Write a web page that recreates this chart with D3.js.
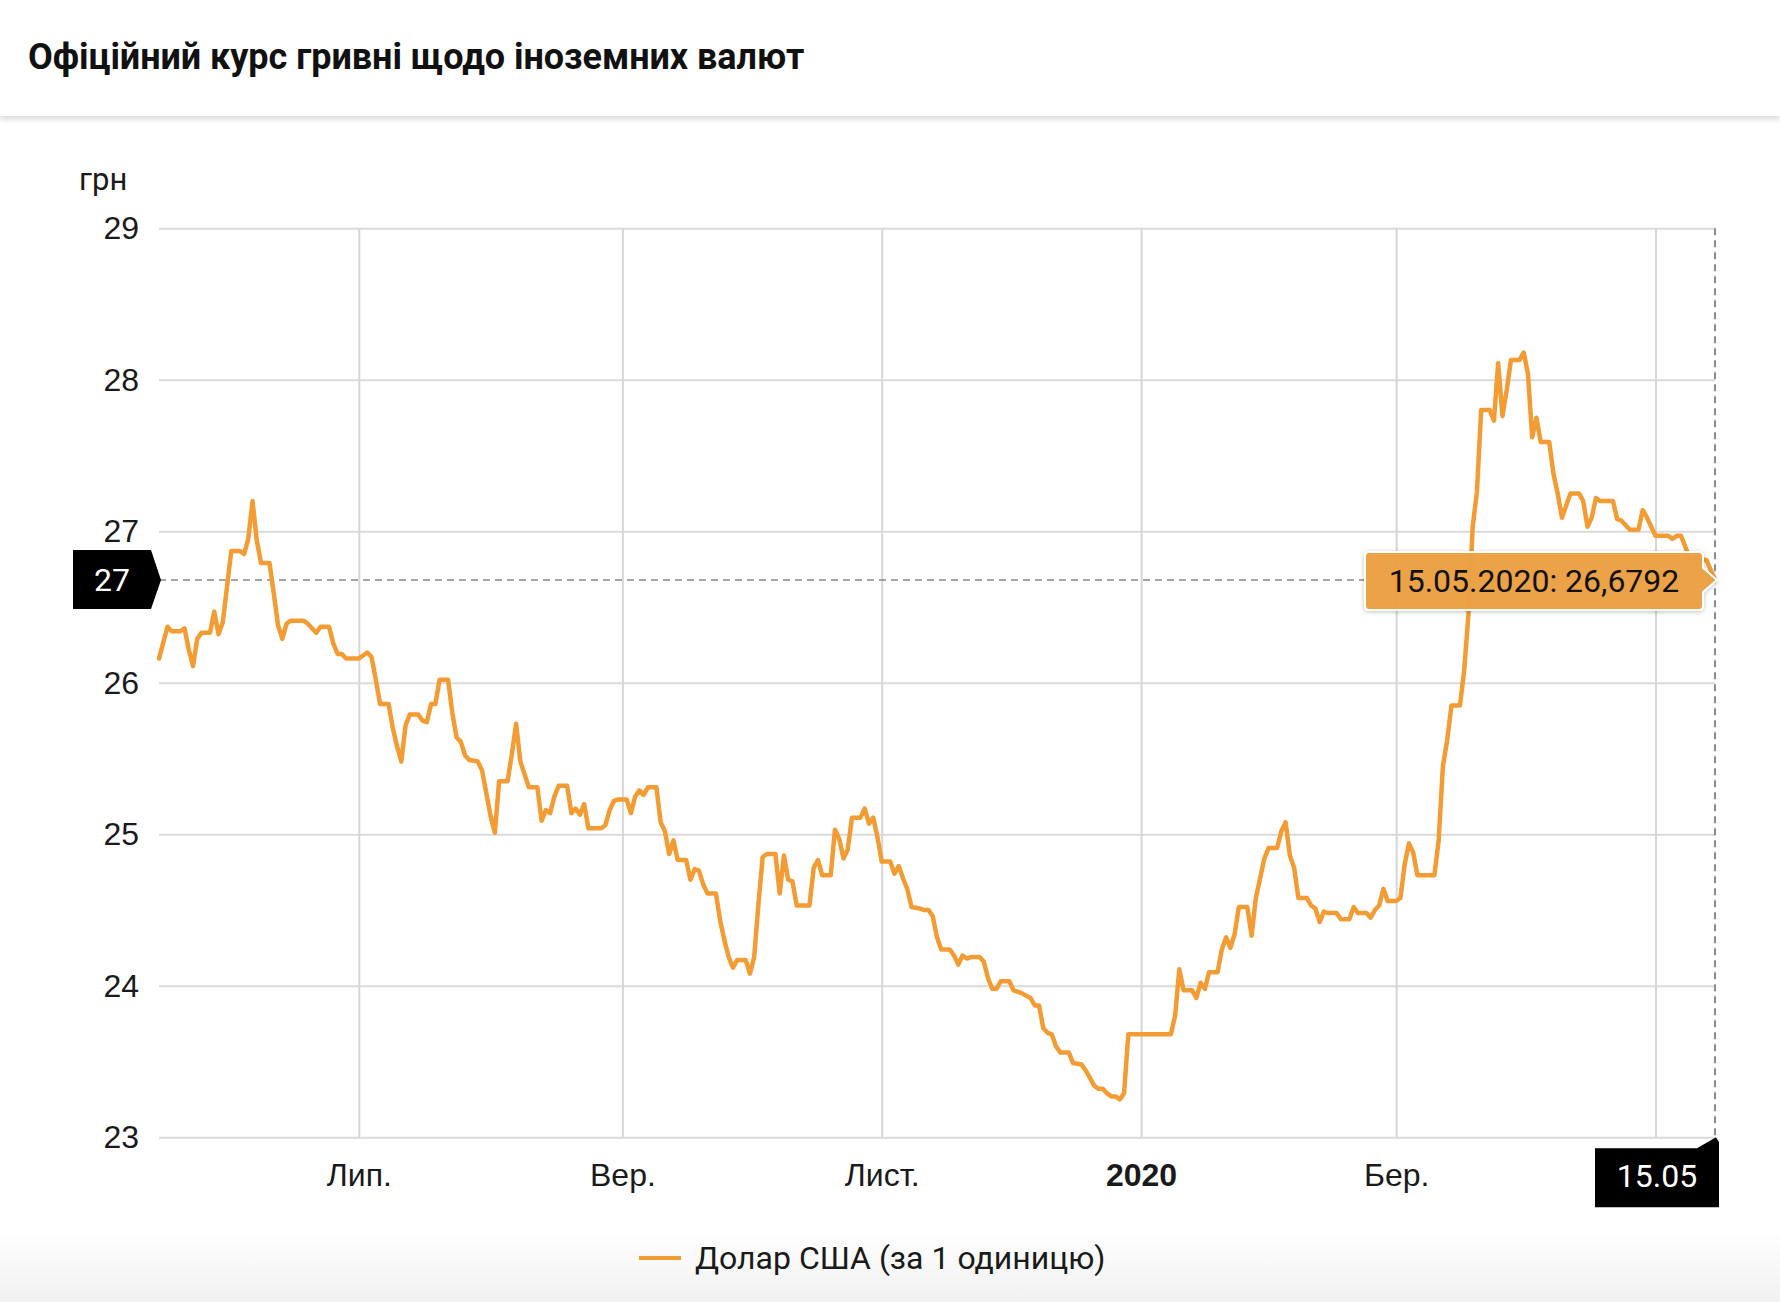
<!DOCTYPE html>
<html>
<head>
<meta charset="utf-8">
<script src="https://cdn.jsdelivr.net/npm/d3@7"></script>
<style>
  body { margin: 0; background: #fff; font-family: Roboto, "Noto Sans", sans-serif; }
  #page { position: relative; width: 1780px; height: 1302px; overflow: hidden; background: #fff; }
  #header {
    position: absolute; left: 0; top: 0; width: 1780px; height: 116px; background: #fff;
    box-shadow: 0 3px 6px rgba(0,0,0,0.16); z-index: 2;
  }
  #header h1 {
    margin: 0; position: absolute; left: 28px; top: 36px;
    font-size: 36px; font-weight: 700; color: #111; letter-spacing: -0.05px;
  }
  #foot {
    position: absolute; left: 0; top: 1232px; width: 1780px; height: 70px;
    background: linear-gradient(#ffffff, #f1f1f1);
  }
  #chart { position: absolute; left: 0; top: 0; }
</style>
</head>
<body>
<div id="page">
  <div id="foot"></div>
  <div id="header"><h1>Офіційний курс гривні щодо іноземних валют</h1></div>
  <div id="chart"></div>
</div>
<script>
// daily official USD rate
const dates = [
  "2019-05-15","2019-05-17","2019-05-18","2019-05-20","2019-05-21","2019-05-22","2019-05-23","2019-05-24","2019-05-25","2019-05-27",
  "2019-05-28","2019-05-29","2019-05-30","2019-06-01","2019-06-03","2019-06-04","2019-06-05","2019-06-06","2019-06-07","2019-06-08",
  "2019-06-10","2019-06-11","2019-06-12","2019-06-13","2019-06-14","2019-06-15","2019-06-18","2019-06-19","2019-06-21","2019-06-22",
  "2019-06-24","2019-06-25","2019-06-26","2019-06-27","2019-06-28","2019-07-01","2019-07-02","2019-07-03","2019-07-04","2019-07-05",
  "2019-07-06","2019-07-08","2019-07-09","2019-07-10","2019-07-11","2019-07-12","2019-07-13","2019-07-15","2019-07-16","2019-07-17",
  "2019-07-18","2019-07-19","2019-07-20","2019-07-22","2019-07-23","2019-07-24","2019-07-25","2019-07-26","2019-07-27","2019-07-29",
  "2019-07-30","2019-07-31","2019-08-01","2019-08-02","2019-08-03","2019-08-05","2019-08-06","2019-08-07","2019-08-08","2019-08-10",
  "2019-08-12","2019-08-13","2019-08-14","2019-08-15","2019-08-16","2019-08-17","2019-08-19","2019-08-20","2019-08-21","2019-08-22",
  "2019-08-23","2019-08-24","2019-08-27","2019-08-28","2019-08-29","2019-08-30","2019-08-31","2019-09-02","2019-09-03","2019-09-04",
  "2019-09-05","2019-09-06","2019-09-07","2019-09-09","2019-09-10","2019-09-11","2019-09-12","2019-09-13","2019-09-14","2019-09-16",
  "2019-09-17","2019-09-18","2019-09-19","2019-09-20","2019-09-21","2019-09-23","2019-09-24","2019-09-25","2019-09-26","2019-09-27",
  "2019-09-28","2019-09-30","2019-10-01","2019-10-02","2019-10-03","2019-10-04","2019-10-05","2019-10-07","2019-10-08","2019-10-09",
  "2019-10-10","2019-10-11","2019-10-12","2019-10-15","2019-10-16","2019-10-17","2019-10-18","2019-10-20","2019-10-21","2019-10-22",
  "2019-10-23","2019-10-24","2019-10-25","2019-10-27","2019-10-28","2019-10-29","2019-10-30","2019-10-31","2019-11-01","2019-11-03",
  "2019-11-04","2019-11-05","2019-11-06","2019-11-07","2019-11-08","2019-11-10","2019-11-11","2019-11-12","2019-11-13","2019-11-14",
  "2019-11-15","2019-11-17","2019-11-18","2019-11-19","2019-11-20","2019-11-21","2019-11-22","2019-11-24","2019-11-25","2019-11-26",
  "2019-11-27","2019-11-28","2019-11-29","2019-12-01","2019-12-02","2019-12-04","2019-12-06","2019-12-07","2019-12-08","2019-12-09",
  "2019-12-10","2019-12-11","2019-12-12","2019-12-13","2019-12-15","2019-12-16","2019-12-18","2019-12-19","2019-12-20","2019-12-21",
  "2019-12-22","2019-12-23","2019-12-24","2019-12-25","2019-12-26","2019-12-27","2019-12-28","2019-12-29","2020-01-08","2020-01-09",
  "2020-01-10","2020-01-11","2020-01-13","2020-01-14","2020-01-15","2020-01-16","2020-01-17","2020-01-19","2020-01-20","2020-01-21",
  "2020-01-22","2020-01-23","2020-01-24","2020-01-26","2020-01-27","2020-01-28","2020-01-29","2020-01-30","2020-01-31","2020-02-02",
  "2020-02-03","2020-02-04","2020-02-05","2020-02-06","2020-02-07","2020-02-09","2020-02-10","2020-02-11","2020-02-12","2020-02-13",
  "2020-02-14","2020-02-16","2020-02-17","2020-02-19","2020-02-20","2020-02-21","2020-02-23","2020-02-24","2020-02-25","2020-02-26",
  "2020-02-27","2020-02-28","2020-03-01","2020-03-02","2020-03-03","2020-03-04","2020-03-05","2020-03-06","2020-03-10","2020-03-11",
  "2020-03-12","2020-03-13","2020-03-14","2020-03-16","2020-03-17","2020-03-18","2020-03-19","2020-03-20","2020-03-21","2020-03-23",
  "2020-03-24","2020-03-25","2020-03-26","2020-03-27","2020-03-28","2020-03-30","2020-03-31","2020-04-01","2020-04-02","2020-04-03",
  "2020-04-04","2020-04-06","2020-04-07","2020-04-08","2020-04-09","2020-04-10","2020-04-11","2020-04-13","2020-04-14","2020-04-15",
  "2020-04-16","2020-04-17","2020-04-18","2020-04-21","2020-04-22","2020-04-23","2020-04-25","2020-04-27","2020-04-28","2020-04-29",
  "2020-04-30","2020-05-01","2020-05-04","2020-05-05","2020-05-06","2020-05-07","2020-05-08","2020-05-09","2020-05-13","2020-05-15"
];
const usd = [
  26.16,26.37,26.34,26.34,26.36,26.22,26.11,26.29,26.33,26.33,
  26.47,26.32,26.40,26.87,26.87,26.85,26.95,27.20,26.94,26.79,
  26.79,26.59,26.38,26.29,26.39,26.41,26.41,26.39,26.33,26.37,
  26.37,26.26,26.19,26.19,26.16,26.16,26.18,26.20,26.17,26.02,
  25.86,25.86,25.70,25.58,25.48,25.72,25.79,25.79,25.75,25.74,
  25.86,25.86,26.02,26.02,25.80,25.64,25.61,25.52,25.49,25.48,
  25.42,25.27,25.12,25.01,25.35,25.35,25.53,25.73,25.48,25.31,
  25.31,25.09,25.16,25.14,25.25,25.32,25.32,25.14,25.17,25.13,
  25.20,25.04,25.04,25.06,25.16,25.22,25.23,25.23,25.14,25.25,
  25.29,25.26,25.31,25.31,25.08,25.02,24.87,24.96,24.83,24.83,
  24.70,24.77,24.76,24.67,24.61,24.61,24.43,24.30,24.19,24.12,
  24.17,24.17,24.08,24.19,24.54,24.85,24.87,24.87,24.61,24.86,
  24.70,24.69,24.53,24.53,24.78,24.83,24.73,24.73,25.03,24.97,
  24.84,24.90,25.11,25.11,25.17,25.07,25.11,24.98,24.82,24.82,
  24.74,24.79,24.71,24.64,24.52,24.51,24.50,24.50,24.46,24.32,
  24.24,24.24,24.20,24.14,24.20,24.18,24.19,24.19,24.16,24.05,
  23.98,23.98,24.03,24.03,23.97,23.95,23.92,23.87,23.87,23.72,
  23.69,23.68,23.60,23.56,23.56,23.49,23.48,23.44,23.39,23.34,
  23.32,23.32,23.29,23.27,23.27,23.25,23.29,23.68,23.68,23.80,
  24.11,23.97,23.97,23.92,24.02,23.98,24.09,24.09,24.24,24.32,
  24.25,24.34,24.52,24.52,24.33,24.58,24.71,24.84,24.91,24.91,
  25.02,25.08,24.86,24.78,24.58,24.58,24.53,24.51,24.42,24.49,
  24.48,24.48,24.44,24.44,24.52,24.48,24.48,24.45,24.50,24.53,
  24.64,24.56,24.56,24.58,24.80,24.94,24.88,24.73,24.73,24.96,
  25.45,25.62,25.85,25.85,26.08,26.45,27.03,27.26,27.80,27.80,
  27.73,28.11,27.76,27.93,28.13,28.13,28.18,28.04,27.62,27.75,
  27.59,27.59,27.38,27.25,27.09,27.17,27.25,27.25,27.20,27.03,
  27.09,27.22,27.20,27.20,27.08,27.07,27.01,27.01,27.14,27.09,
  27.03,26.97,26.97,26.95,26.97,26.97,26.90,26.82,26.81,26.6792
];

const yTicks = [23, 24, 25, 26, 27, 28, 29];
const xTickDates = ["2019-07-01", "2019-09-01", "2019-11-01", "2020-01-01", "2020-03-01", "2020-05-01"];
// the May label sits under the 15.05 crosshair box, so it is left blank
const xTickLabels = ["Лип.", "Вер.", "Лист.", "2020", "Бер.", ""];
const seriesName = "Долар США (за 1 одиницю)";
const unitLabel = "грн";

const W = 1780, H = 1302;
const margin = { left: 159, right: 65, top: 228.3, bottom: 164.7 };
const orange = "#f39c33";
const fs = "32px";

const parse = d3.timeParse("%Y-%m-%d");
const data = dates.map((d, i) => ({ date: parse(d), v: usd[i] }));
const last = data[data.length - 1];

const svg = d3.select("#chart").append("svg")
  .attr("width", W).attr("height", H)
  .style("font-family", "Roboto, 'Noto Sans', sans-serif");

const x = d3.scaleTime()
  .domain([parse("2019-05-15"), parse("2020-05-15")])
  .range([margin.left, W - margin.right]);
const y = d3.scaleLinear()
  .domain([23, 29])
  .range([H - margin.bottom, margin.top]);

// horizontal grid + y labels
const yAxis = svg.append("g")
  .attr("transform", `translate(${margin.left},0)`)
  .call(d3.axisLeft(y).tickValues(yTicks).tickFormat(d3.format("d"))
    .tickSize(-(W - margin.right - margin.left)).tickPadding(20));
yAxis.select(".domain").remove();
yAxis.selectAll(".tick line").attr("stroke", "#dadada").attr("stroke-width", 2);
yAxis.selectAll(".tick text").attr("fill", "#1a1a1a").style("font-size", fs);

// vertical grid + x labels
const xAxis = svg.append("g")
  .attr("transform", `translate(0,${H - margin.bottom})`)
  .call(d3.axisBottom(x).tickValues(xTickDates.map(parse))
    .tickFormat((d, i) => xTickLabels[i])
    .tickSize(-(H - margin.bottom - margin.top)).tickPadding(26));
xAxis.select(".domain").remove();
xAxis.selectAll(".tick line").attr("stroke", "#d6d6d6").attr("stroke-width", 2);
xAxis.selectAll(".tick text").attr("fill", "#1a1a1a").style("font-size", fs)
  .style("font-weight", (d, i) => xTickLabels[i] === "2020" ? 700 : 400);

svg.append("text").attr("x", 79).attr("y", 190)
  .attr("fill", "#1a1a1a").style("font-size", "31px").text(unitLabel);

// vertical crosshair at last date
svg.append("line")
  .attr("x1", x(last.date)).attr("x2", x(last.date))
  .attr("y1", margin.top).attr("y2", H - margin.bottom)
  .attr("stroke", "#8c8c8c").attr("stroke-width", 2).attr("stroke-dasharray", "7,5");

// horizontal crosshair
svg.append("line")
  .attr("x1", margin.left).attr("x2", x(last.date))
  .attr("y1", y(last.v)).attr("y2", y(last.v))
  .attr("stroke", "#888").attr("stroke-width", 1.5).attr("stroke-dasharray", "7,5");

// series line
const line = d3.line().x(d => x(d.date)).y(d => y(d.v));
svg.append("path").datum(data)
  .attr("fill", "none").attr("stroke", orange).attr("stroke-width", 4.5)
  .attr("stroke-linejoin", "round").attr("stroke-linecap", "round")
  .attr("d", line);

// y crosshair label
const ly = y(last.v);
svg.append("path")
  .attr("d", `M73,${ly - 30}H151L161,${ly}L151,${ly + 29}H73Z`)
  .attr("fill", "#000");
svg.append("text").attr("x", 112).attr("y", ly + 11).attr("text-anchor", "middle")
  .attr("fill", "#fff").style("font-size", fs).text(d3.format(".0f")(last.v));

// x crosshair label
const lx = x(last.date), by = H - margin.bottom;
svg.append("path")
  .attr("d", `M1595,${by + 11}H1697L${lx + 1},${by}L1719,${by + 5}V${by + 70}H1595Z`)
  .attr("fill", "#000");
svg.append("text").attr("x", 1657).attr("y", by + 50).attr("text-anchor", "middle")
  .attr("fill", "#fff").style("font-size", fs).text(d3.timeFormat("%d.%m")(last.date));

// tooltip
const defs = svg.append("defs");
const f = defs.append("filter").attr("id", "sh").attr("x", "-10%").attr("y", "-30%").attr("width", "120%").attr("height", "160%");
f.append("feDropShadow").attr("dx", 0).attr("dy", 1).attr("stdDeviation", 2).attr("flood-color", "#000").attr("flood-opacity", 0.25);
const tx0 = 1365, tx1 = 1703, tw = ly - 28, tb = ly + 30;
svg.append("path")
  .attr("d", `M${tx0 + 4},${tw}H${tx1 - 4}Q${tx1},${tw} ${tx1},${tw + 4}V${ly - 12}L${lx + 2},${ly}L${tx1},${ly + 12}V${tb - 4}Q${tx1},${tb} ${tx1 - 4},${tb}H${tx0 + 4}Q${tx0},${tb} ${tx0},${tb - 4}V${tw + 4}Q${tx0},${tw} ${tx0 + 4},${tw}Z`)
  .attr("fill", "#eca043").attr("fill-opacity", 0.97)
  .attr("stroke", "#fff").attr("stroke-width", 2)
  .attr("filter", "url(#sh)");
const fmtVal = v => d3.format(".4f")(v).replace(".", ",");
svg.append("text").attr("x", (tx0 + tx1) / 2).attr("y", ly + 12).attr("text-anchor", "middle")
  .attr("fill", "#111").style("font-size", fs)
  .text(`${d3.timeFormat("%d.%m.%Y")(last.date)}: ${fmtVal(last.v)}`);

// legend
svg.append("line").attr("x1", 639).attr("x2", 681).attr("y1", 1258).attr("y2", 1258)
  .attr("stroke", orange).attr("stroke-width", 4);
svg.append("text").attr("x", 695).attr("y", 1269)
  .attr("fill", "#1a1a1a").style("font-size", fs).text(seriesName);
</script>
</body>
</html>
